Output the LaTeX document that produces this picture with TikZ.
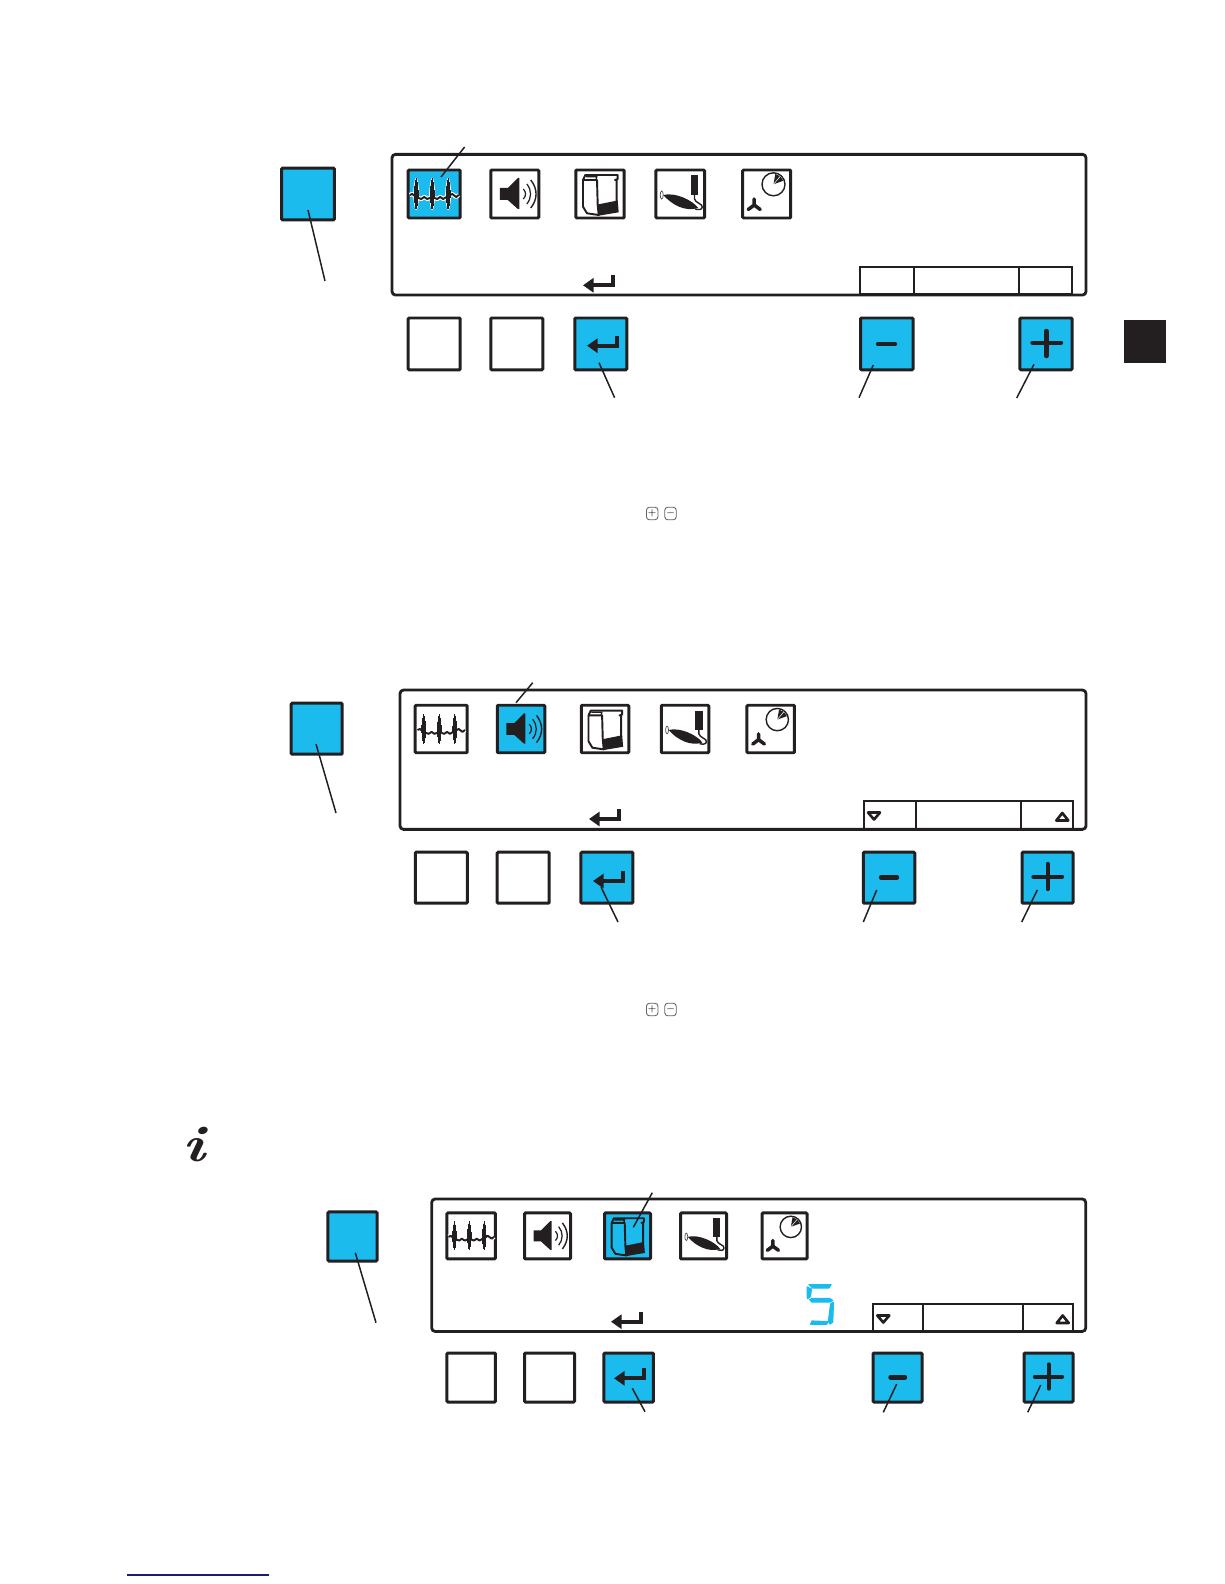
\documentclass[tikz,border=0pt]{standalone}
\usepackage{xcolor}
\usetikzlibrary{arrows.meta,positioning,calc}
\definecolor{keyblue}{HTML}{1CBBEE}
\definecolor{ink}{HTML}{231F20}
\definecolor{linkblue}{HTML}{1A1A7A}

\begin{document}
\begin{tikzpicture}[
  x=0.02cm, y=-0.02cm,
  sized/.style 2 args={minimum width=#1*0.02cm, minimum height=#2*0.02cm},
  screen/.style={rectangle, draw=ink, line width=1.6pt, rounded corners=0.07cm, inner sep=0pt},
  key/.style={rectangle, draw=ink, line width=1.7pt, rounded corners=0.02cm, inner sep=0pt},
  hotkey/.style={key, fill=keyblue},
  softkey/.style={rectangle, draw=ink, line width=1.2pt, inner sep=0pt},
  leader/.style={draw=ink, line width=0.85pt},
  glyph/.style={draw=ink, line width=2.5pt, line cap=round},
  softtip/.style={draw=ink, line width=1.5pt, line join=round},
  smallkey/.style={rectangle, draw=ink!70, line width=0.5pt, rounded corners=0.06cm,
                   inner sep=0pt, font=\tiny\bfseries, sized={11.5}{12.5}},
  pics/ecg/.style={code={
    \foreach \c/\w/\v in {white/2.4pt/1.2pt, ink/1.1pt/0pt}{
      \draw[\c, line width=\w, line join=round] (-24.5,1)--(-22,0)--(-18,3)--(-13,5)--(-10,3)--(-7,5)--(-2,3)
        --(3,5)--(6,3)--(9,5)--(14,2)--(18,0)--(22,3)--(24.5,1);
      \foreach \s in {-18,-2,14}{
        \draw[\c, fill=\c, line width=\v, line join=round] (\s,-15) .. controls (\s-2.6,-4) and (\s-2.6,4) .. (\s,15)
          .. controls (\s+2.6,4) and (\s+2.6,-4) .. (\s,-15) -- cycle;
      }
    }
  }},
  pics/speaker/.style={code={
    \fill[ink] (-15,-6)--(-7,-6)--(3,-16)--(4.5,-16)--(4.5,15)--(3,15)--(-7,6)--(-15,6)--cycle;
    \draw[ink, line width=0.7pt] (8.5,-5) .. controls (11.5,-2) and (11.5,2) .. (8.5,5);
    \draw[ink, line width=0.7pt] (12,-10) .. controls (17,-4) and (17,4) .. (12,10);
    \draw[ink, line width=0.8pt] (16,-14) .. controls (23,-5) and (23,5) .. (16,14);
  }},
  pics/unit/.style={code={
    \draw[ink, line width=1.1pt, line join=round] (-17,-14)--(-14.7,-19)--(17.7,-19)--(17.7,-15)--(15,-14)--(16.7,-14)--(16.7,8);
    \draw[ink, line width=1.1pt, line join=round] (-17,-14)--(-17,12.7)--(-13,19.3)--(-1.3,21)--(-2.3,11)--(-3,-14)--cycle;
    \draw[ink, line width=0.8pt] (-14,-17.3)--(-3.3,-17.3)--(-4,-14);
    \fill[ink] (-2.3,10.5)--(17.7,6.5)--(18.7,18.3)--(-1.3,21.7)--cycle;
  }},
  pics/handpiece/.style={code={
    \fill[ink] (10.4,-19) rectangle (18.2,1);
    \draw[ink, line width=0.8pt] (14.3,1)--(14.3,5) .. controls (15,9) and (23,10) .. (22,13) .. controls (22,16) and (18,16) .. (15,15);
    \fill[ink] (-17,1) .. controls (-5,-2) and (12,6) .. (18,14) .. controls (5,18) and (-8,11) .. (-17,1) -- cycle;
    \draw[ink!80, line width=0.4pt] (-18.5,1) ellipse (1.5 and 4);
  }},
  pics/timerfan/.style={code={
    \draw[ink, line width=0.8pt] (6.8,-9.7) circle (11.5);
    \fill[ink] (6.8,-9.7)--(8.6,-20)--(13.5,-17.7)--(16.7,-13.3)--cycle;
    \draw[white, line width=0.3pt] (6.8,-9.7)--(13.5,-17.7);
    \draw[ink, line width=2pt, line cap=round] (-12.5,5)--(-12.5,11)--(-18.5,15.5);
    \draw[ink, line width=2pt, line cap=round] (-12.5,11)--(-6.5,15.5);
  }},
  pics/enter/.style={code={
    \draw[ink, line width=2.2pt, -{Triangle[length=6pt,width=8pt]}] (30,-10) |- (0,0);
  }},
  pics/five/.style={code={
    \filldraw[keyblue, line width=0.7pt, line join=round] (2.3,0.6)--(24.3,0.6)--(22.3,4)--(6,4)--cycle;
    \filldraw[keyblue, line width=0.7pt, line join=round] (0.6,3)--(4.7,5)--(3.7,12.5)--(1,14.5)--(0.6,13)--cycle;
    \filldraw[keyblue, line width=0.7pt, line join=round] (3,15.5)--(5.5,14.5)--(23,14.5)--(26,16.5)--(23,18)--(5,18)--cycle;
    \filldraw[keyblue, line width=0.7pt, line join=round] (24,19.5)--(26.7,18.5)--(26,38)--(23.3,40)--(21.7,37.5)--cycle;
    \filldraw[keyblue, line width=0.7pt, line join=round] (4,40.2)--(20,40.2)--(21,37.7)--(5.3,37)--cycle;
  }},
]
  \useasboundingbox (0,0) rectangle (1224,1584);

  % TOP PANEL
  \node[hotkey, sized={52.8}{51.8}] (selA) at (308,194) {};
  \node[screen, sized={694}{140.7}] (screenA) at (739,224.7) {};
  \node[hotkey, sized={52}{48}] (iconAa) at (434.2,194) {};
  \node[key, sized={48}{48}] (iconAb) at (514.8,194) {};
  \node[key, sized={48.3}{48}] (iconAc) at (600,194) {};
  \node[key, sized={48.6}{48}] (iconAd) at (680.2,194) {};
  \node[key, sized={48}{48}] (iconAe) at (766.7,194) {};
  \pic at (iconAa) {ecg};
  \pic at (iconAb) {speaker};
  \pic at (iconAc) {unit};
  \pic at (iconAd) {handpiece};
  \pic at (iconAe) {timerfan};
  \node[softkey, sized={53.7}{27.3}] (softAa) at (887.2,280.3) {};
  \node[softkey, sized={105}{27.3}] (softAb) at (966.5,280.3) {};
  \node[softkey, sized={53}{27.3}] (softAc) at (1045.5,280.3) {};
  \pic at (583,285.3) {enter};
  \node[key, sized={52}{51.8}] (keyAa) at (434.2,343.9) {};
  \node[key, sized={51.9}{51.8}] (keyAb) at (516.8,343.9) {};
  \node[hotkey, sized={51.9}{51.8}] (keyAc) at (600.8,343.9) {};
  \node[hotkey, sized={52.5}{51.8}] (keyAd) at (886.8,343.9) {};
  \node[hotkey, sized={52.1}{51.8}] (keyAe) at (1046,343.9) {};
  \pic at (587,345.7) {enter};
  \draw[glyph] (878,344) -- (895,344);
  \draw[glyph] (1032.5,342.7) -- (1061,342.7);
  \draw[glyph] (1046.3,331) -- (1046.3,356);
  \node[rectangle, fill=ink, inner sep=0pt, sized={42}{42.7}] (tab) at (1145,341.3) {};
  \node[smallkey] (plusA) at (652.2,513.5) {$+$};
  \node[smallkey] (minusA) at (670.5,513.5) {$-$};

  % Leaders of the top panel
  \coordinate (leadAa) at (441,177);   \coordinate (endAa) at (464.6,147);
  \coordinate (leadAb) at (308,210);   \coordinate (endAb) at (325,281);
  \coordinate (leadAc) at (599,362.7); \coordinate (endAc) at (614.6,397.7);
  \coordinate (leadAd) at (873.3,365); \coordinate (endAd) at (859,397.7);
  \coordinate (leadAe) at (1034,364.3); \coordinate (endAe) at (1016.7,398);
  \draw[leader] (leadAa) -- (endAa);
  \draw[leader] (leadAb) -- (endAb);
  \draw[leader] (leadAc) -- (endAc);
  \draw[leader] (leadAd) -- (endAd);
  \draw[leader] (leadAe) -- (endAe);

  % MIDDLE PANEL
  \node[hotkey, sized={51}{51}] (selB) at (316.7,728.7) {};
  \node[screen, sized={686}{139.3}] (screenB) at (743,759.7) {};
  \node[key, sized={52}{47.5}] (iconBa) at (441.2,729) {};
  \node[hotkey, sized={47.5}{47.5}] (iconBb) at (521,729) {};
  \node[key, sized={47.5}{47.5}] (iconBc) at (605,729) {};
  \node[key, sized={47.5}{47.5}] (iconBd) at (685,729) {};
  \node[key, sized={47.5}{47.5}] (iconBe) at (770.7,729) {};
  \pic[scale=0.97] at (iconBa) {ecg};
  \pic[scale=0.97] at (iconBb) {speaker};
  \pic[scale=0.97] at (iconBc) {unit};
  \pic[scale=0.97] at (iconBd) {handpiece};
  \pic[scale=0.97] at (iconBe) {timerfan};
  \node[softkey, sized={52}{28}] (softBa) at (889.7,815) {};
  \node[softkey, sized={105}{28}] (softBb) at (968.2,815) {};
  \node[softkey, sized={52.3}{28}] (softBc) at (1046.9,815) {};
  \draw[softtip] (868,812.5) -- (880,812.5) -- (874,819.5) -- cycle;
  \draw[softtip] (1056.3,820.5) -- (1068.3,820.5) -- (1062.3,813) -- cycle;
  \pic at (589,819) {enter};
  \node[key, sized={52}{51}] (keyBa) at (441.3,877.7) {};
  \node[key, sized={52}{51}] (keyBb) at (523.2,877.7) {};
  \node[hotkey, sized={52}{51}] (keyBc) at (606.9,877.7) {};
  \node[hotkey, sized={51.5}{51}] (keyBd) at (889,877.7) {};
  \node[hotkey, sized={51}{51}] (keyBe) at (1047.5,877.7) {};
  \pic at (593,881) {enter};
  \draw[glyph] (881,877.3) -- (897,877.3);
  \draw[glyph] (1033.5,876.7) -- (1062,876.7);
  \draw[glyph] (1047.7,864) -- (1047.7,889);
  \node[smallkey] (plusB) at (652.2,1009.5) {$+$};
  \node[smallkey] (minusB) at (670.5,1009.5) {$-$};

  % Leaders of the middle panel
  \coordinate (leadBa) at (516,702.7); \coordinate (endBa) at (532.7,682.7);
  \coordinate (leadBb) at (316,744);   \coordinate (endBb) at (336,813);
  \coordinate (leadBc) at (601,887);   \coordinate (endBc) at (618,922);
  \coordinate (leadBd) at (876.7,890); \coordinate (endBd) at (863.3,922);
  \coordinate (leadBe) at (1037.3,890); \coordinate (endBe) at (1021.7,922);
  \draw[leader] (leadBa) -- (endBa);
  \draw[leader] (leadBb) -- (endBb);
  \draw[leader] (leadBc) -- (endBc);
  \draw[leader] (leadBd) -- (endBd);
  \draw[leader] (leadBe) -- (endBe);

  % BOTTOM PANEL
  \node[text=ink, inner sep=0pt, font=\fontsize{29}{29}\selectfont\bfseries\itshape, transform shape, xscale=1.25] (info) at (194,1145) {i};
  \node[hotkey, sized={49.1}{49.1}] (selC) at (352.5,1236.5) {};
  \node[screen, sized={654}{132.5}] (screenC) at (758.7,1265.2) {};
  \node[key, sized={48.5}{46}] (iconCa) at (471.2,1235.9) {};
  \node[key, sized={46}{46}] (iconCb) at (547.5,1235.9) {};
  \node[hotkey, sized={46}{46}] (iconCc) at (627.5,1235.9) {};
  \node[key, sized={46}{46}] (iconCd) at (703.5,1235.9) {};
  \node[key, sized={45}{46}] (iconCe) at (784.5,1235.9) {};
  \pic[scale=0.93] at (iconCa) {ecg};
  \pic[scale=0.93] at (iconCb) {speaker};
  \pic[scale=0.93] at (iconCc) {unit};
  \pic[scale=0.93] at (iconCd) {handpiece};
  \pic[scale=0.93] at (iconCe) {timerfan};
  \pic at (806.7,1284) {five};
  \node[softkey, sized={50}{26.7}] (softCa) at (898.3,1317.7) {};
  \node[softkey, sized={100}{26.7}] (softCb) at (973.3,1317.7) {};
  \node[softkey, sized={49.7}{26.7}] (softCc) at (1048.2,1317.7) {};
  \draw[softtip] (877.3,1315.5) -- (889.3,1315.5) -- (883.3,1322.5) -- cycle;
  \draw[softtip] (1056.7,1323) -- (1068.7,1323) -- (1062.7,1315.5) -- cycle;
  \pic at (611,1321.7) {enter};
  \node[key, sized={48.5}{49}] (keyCa) at (471.2,1377.5) {};
  \node[key, sized={50}{49}] (keyCb) at (549.5,1377.5) {};
  \node[hotkey, sized={49.5}{49}] (keyCc) at (628.7,1377.5) {};
  \node[hotkey, sized={49}{49}] (keyCd) at (897.5,1377.5) {};
  \node[hotkey, sized={49}{49}] (keyCe) at (1048.5,1377.5) {};
  \pic at (614,1378.3) {enter};
  \draw[glyph] (890.5,1377.3) -- (905,1377.3);
  \draw[glyph] (1035,1376.7) -- (1062,1376.7);
  \draw[glyph] (1048.7,1364.5) -- (1048.7,1388.5);

  % Leaders of the bottom panel
  \coordinate (leadCa) at (633.3,1227.3); \coordinate (endCa) at (652.3,1192.7);
  \coordinate (leadCb) at (355.3,1252.7); \coordinate (endCb) at (376,1322.7);
  \coordinate (leadCc) at (632.3,1388.3); \coordinate (endCc) at (645,1411.7);
  \coordinate (leadCd) at (896.7,1384);   \coordinate (endCd) at (883.3,1412.3);
  \coordinate (leadCe) at (1040.7,1385);  \coordinate (endCe) at (1027.7,1412.3);
  \draw[leader] (leadCa) -- (endCa);
  \draw[leader] (leadCb) -- (endCb);
  \draw[leader] (leadCc) -- (endCc);
  \draw[leader] (leadCd) -- (endCd);
  \draw[leader] (leadCe) -- (endCe);

  % Link rule at the foot of the page
  \coordinate (linkstart) at (127.3,1575);
  \coordinate (linkend) at (269,1575);
  \draw[linkblue, line width=0.6pt] (linkstart) -- (linkend);
\end{tikzpicture}
\end{document}
